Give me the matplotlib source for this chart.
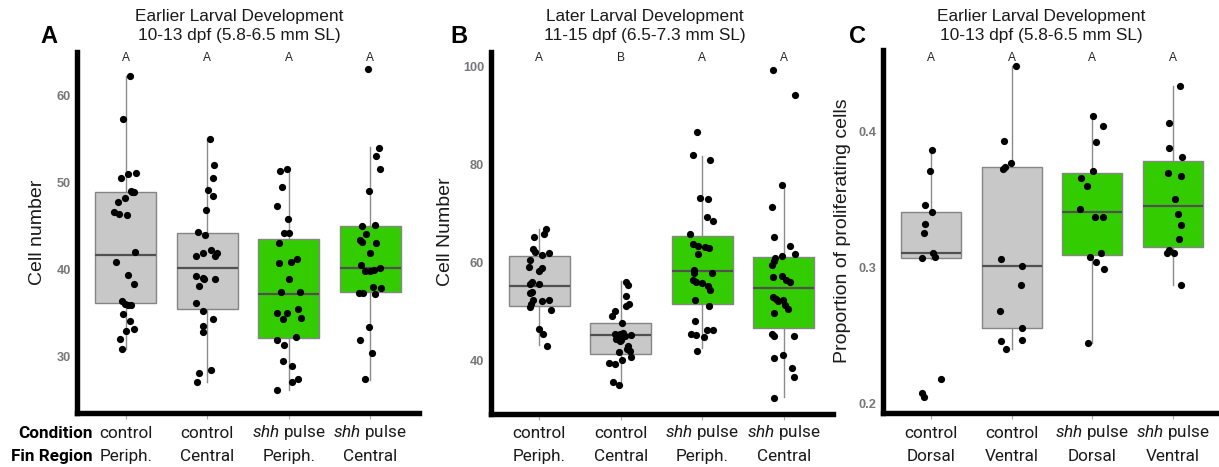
import matplotlib
matplotlib.use('Agg')
import matplotlib.pyplot as plt
from matplotlib.transforms import blended_transform_factory
import numpy as np

plt.rcParams['mathtext.fontset'] = 'custom'
plt.rcParams['mathtext.it'] = 'Roboto:italic'
plt.rcParams['mathtext.rm'] = 'Roboto'

W, H = 1219, 467

# ---------------- Panel A data (cell number, earlier development) ----------------
A_ctrl_periph = [62.2, 57.2, 50.5, 50.9, 51.0, 49.0, 48.9, 48.8, 48.2, 47.7, 46.5, 46.3, 46.2, 42.0,
                 40.8, 39.3, 38.3, 36.3, 36.0, 35.9, 35.9, 34.8, 34.0, 32.9, 33.1, 31.9, 30.8]
A_ctrl_central = [54.9, 52.0, 50.5, 49.1, 48.4, 46.8, 44.3, 43.9, 41.9, 42.2, 41.9, 41.5, 41.5, 39.2,
                  39.0, 38.8, 38.9, 38.1, 36.1, 35.2, 34.2, 33.4, 32.8, 28.4, 28.1, 27.0]
A_shh_periph = [51.3, 51.5, 49.4, 47.2, 45.8, 44.2, 44.1, 43.0, 40.7, 40.8, 41.1, 38.9, 37.4, 37.4,
                35.4, 34.9, 35.0, 34.4, 34.2, 32.2, 31.8, 31.3, 29.4, 28.9, 27.4, 27.0, 26.1]
A_shh_central = [63.0, 53.9, 53.0, 51.5, 49.0, 44.9, 45.1, 44.0, 43.3, 43.1, 43.0, 41.9, 40.5, 39.8,
                 39.8, 39.9, 40.1, 37.9, 37.8, 37.2, 37.3, 37.1, 33.3, 31.8, 30.4, 27.4]
A_jit1 = [0.047, -0.039, -0.059, 0.022, 0.125, 0.063, 0.080, 0.104, -0.014, -0.100, -0.141, -0.080, 0.018,
          0.108, -0.121, 0.027, 0.100, -0.047, -0.014, 0.027, 0.063, -0.039, 0.051, -0.002, 0.100, -0.067, -0.051]
A_jit2 = [0.033, 0.082, 0.065, 0.008, 0.074, -0.016, -0.119, -0.025, -0.049, 0.049, 0.123, 0.098, -0.139,
          -0.143, -0.049, -0.037, 0.094, -0.102, -0.143, -0.057, 0.074, -0.049, -0.049, 0.049, -0.098, -0.127]
A_jit3 = [-0.106, -0.020, -0.078, -0.147, -0.008, -0.053, 0.008, -0.115, -0.115, 0.025, 0.102, 0.008, -0.090,
          0.139, 0.114, -0.147, -0.025, 0.151, -0.074, 0.094, -0.139, -0.053, -0.074, 0.037, 0.119, 0.045, -0.139]
A_jit4 = [-0.029, 0.106, 0.074, 0.127, -0.016, -0.094, 0.065, -0.045, -0.127, -0.106, 0.074, 0.004, -0.110,
          -0.061, -0.004, 0.045, 0.127, 0.029, 0.135, -0.135, -0.082, 0.057, -0.008, -0.127, 0.020, -0.061]
A_whislo = [30.8, 27.0, 26.1, 27.3]
A_q1 = [36.1, 35.4, 32.1, 37.4]
A_med = [41.6, 40.1, 37.1, 40.1]
A_q3 = [48.8, 44.1, 43.4, 44.9]
A_whishi = [62.2, 54.9, 51.5, 54.0]
A_letters = ['A', 'A', 'A', 'A']
A_yticks = [30, 40, 50, 60]

# ---------------- Panel B data (cell number, later development) ----------------
B_ctrl_periph = [66.8, 65.8, 65.2, 62.8, 62.2, 61.4, 61.9, 60.4, 59.0, 58.8, 58.3, 55.9, 55.6, 55.5,
                 54.0, 53.8, 52.4, 52.2, 52.3, 51.4, 50.9, 50.2, 46.3, 45.3, 42.9]
B_ctrl_central = [55.9, 55.3, 53.2, 51.4, 51.1, 50.1, 49.1, 47.5, 45.3, 45.3, 45.5, 45.2, 44.8, 44.1,
                  43.9, 42.9, 42.3, 41.9, 41.6, 40.7, 40.1, 39.5, 39.3, 35.5, 35.0, 45.0, 44.4]
B_shh_periph = [86.6, 82.0, 81.0, 73.1, 72.9, 69.3, 68.4, 65.8, 63.8, 63.4, 63.1, 63.0, 61.8, 58.5, 57.9,
                57.9, 56.4, 56.0, 55.8, 55.2, 54.3, 52.3, 51.0, 48.0, 46.1, 46.1, 45.3, 45.2, 44.8, 41.9]
B_shh_central = [99.4, 94.2, 75.8, 71.3, 65.1, 63.3, 61.7, 61.3, 60.9, 60.2, 59.5, 57.1, 57.2, 56.3, 56.0,
                 53.0, 52.5, 52.1, 52.3, 51.2, 50.4, 49.7, 45.3, 44.9, 44.9, 40.5, 41.1, 38.4, 36.6, 32.2]
B_jit1 = [0.082, 0.061, -0.070, -0.082, -0.057, 0.029, 0.123, -0.115, -0.123, 0.037, -0.008, -0.094, -0.119,
          -0.008, -0.090, -0.115, -0.082, 0.029, 0.115, -0.102, -0.110, 0.139, 0.000, 0.045, 0.090]
B_jit2 = [0.061, 0.094, 0.065, 0.106, 0.070, -0.070, -0.102, 0.012, -0.074, -0.012, 0.033, 0.123, -0.045,
          0.008, -0.004, 0.086, 0.078, 0.119, -0.025, 0.131, 0.016, -0.139, -0.070, -0.098, -0.025, 0.050, -0.060]
B_jit3 = [-0.067, -0.112, 0.096, -0.022, 0.067, 0.059, 0.133, -0.145, -0.112, -0.051, 0.035, 0.080, -0.051,
          -0.096, -0.096, 0.125, -0.112, -0.072, 0.002, 0.076, 0.092, -0.088, 0.084, -0.084, 0.055, 0.133,
          -0.133, -0.072, 0.022, -0.067]
B_jit4 = [-0.127, 0.139, -0.016, -0.143, -0.119, 0.082, 0.135, -0.016, -0.106, -0.123, -0.143, -0.127, -0.020,
          0.033, 0.074, -0.127, -0.098, -0.070, -0.008, 0.012, 0.053, -0.119, -0.139, -0.119, 0.123, -0.115,
          -0.012, 0.098, 0.131, -0.115]
B_whislo = [43.2, 34.9, 42.4, 32.5]
B_q1 = [51.1, 41.2, 51.4, 46.5]
B_med = [55.1, 45.2, 58.2, 54.7]
B_q3 = [61.2, 47.7, 65.4, 61.0]
B_whishi = [66.9, 56.1, 81.8, 75.7]
B_letters = ['A', 'B', 'A', 'A']
B_yticks = [40, 60, 80, 100]

# ---------------- Panel C data (proportion of proliferating cells) ----------------
C_ctrl_dorsal = [0.386, 0.371, 0.346, 0.341, 0.332, 0.325, 0.311, 0.308, 0.307, 0.218, 0.208, 0.205]
C_ctrl_ventral = [0.448, 0.393, 0.377, 0.374, 0.372, 0.306, 0.301, 0.287, 0.268, 0.256, 0.247, 0.246, 0.240]
C_shh_dorsal = [0.411, 0.404, 0.392, 0.371, 0.366, 0.360, 0.343, 0.337, 0.337, 0.311, 0.308, 0.304, 0.299, 0.245]
C_shh_ventral = [0.433, 0.406, 0.388, 0.381, 0.369, 0.367, 0.350, 0.339, 0.331, 0.321, 0.313, 0.311, 0.311, 0.287]
C_jit1 = [0.005, -0.020, -0.074, 0.013, -0.082, -0.095, 0.017, 0.046, -0.111, 0.120, -0.115, -0.086]
C_jit2 = [0.050, -0.091, -0.004, -0.079, -0.108, -0.132, 0.124, 0.116, -0.149, 0.132, 0.124, -0.139, -0.074]
C_jit3 = [0.006, 0.139, 0.052, 0.014, -0.143, -0.068, -0.151, 0.039, 0.130, 0.114, -0.027, 0.043, 0.147, -0.052]
C_jit4 = [0.091, -0.045, -0.045, 0.112, -0.062, 0.108, 0.029, 0.062, 0.103, 0.079, -0.045, -0.070, 0.017, 0.108]
C_whislo = [0.3065, 0.240, 0.245, 0.287]
C_q1 = [0.307, 0.256, 0.309, 0.315]
C_med = [0.311, 0.301, 0.341, 0.345]
C_q3 = [0.341, 0.374, 0.3695, 0.378]
C_whishi = [0.386, 0.448, 0.411, 0.433]
C_letters = ['A', 'A', 'A', 'A']
C_yticks = [0.2, 0.3, 0.4]

conditions = ['control', 'control', r'$\mathit{shh}$ pulse', r'$\mathit{shh}$ pulse']
regions_AB = ['Periph.', 'Central', 'Periph.', 'Central']
regions_C = ['Dorsal', 'Ventral', 'Dorsal', 'Ventral']

GRAY = '#C8C8C8'
GREEN = '#33CC00'
fills = [GRAY, GRAY, GREEN, GREEN]

fig = plt.figure(figsize=(W / 100, H / 100), dpi=100)


def rect(l, t, r, b):
    return [l / W, 1 - b / H, (r - l) / W, (b - t) / H]


def fy(y):
    return 1 - y / H


def fx(x):
    return x / W


panels = [
    dict(rect=rect(77, 52, 419, 413), ylim=(23.45, 64.95),
         groups=[A_ctrl_periph, A_ctrl_central, A_shh_periph, A_shh_central],
         jit=[A_jit1, A_jit2, A_jit3, A_jit4],
         stats=(A_whislo, A_q1, A_med, A_q3, A_whishi), letters=A_letters, yticks=A_yticks,
         ytl=['30', '40', '50', '60'], regions=regions_AB,
         title=('Earlier Larval Development', '10-13 dpf (5.8-6.5 mm SL)'), tx=239,
         tag='A', tagx=48.7, ylabel='Cell number', ylx=37, yly=232),
    dict(rect=rect(490.5, 52, 832.5, 413.5), ylim=(29.1, 103.0),
         groups=[B_ctrl_periph, B_ctrl_central, B_shh_periph, B_shh_central],
         jit=[B_jit1, B_jit2, B_jit3, B_jit4],
         stats=(B_whislo, B_q1, B_med, B_q3, B_whishi), letters=B_letters, yticks=B_yticks,
         ytl=['40', '60', '80', '100'], regions=regions_AB,
         title=('Later Larval Development', '11-15 dpf (6.5-7.3 mm SL)'), tx=645,
         tag='B', tagx=458.7, ylabel='Cell Number', ylx=446, yly=232),
    dict(rect=rect(883, 50, 1221, 413), ylim=(0.1934, 0.4595),
         groups=[C_ctrl_dorsal, C_ctrl_ventral, C_shh_dorsal, C_shh_ventral],
         jit=[C_jit1, C_jit2, C_jit3, C_jit4],
         stats=(C_whislo, C_q1, C_med, C_q3, C_whishi), letters=C_letters, yticks=C_yticks,
         ytl=['0.2', '0.3', '0.4'], regions=regions_C,
         title=('Earlier Larval Development', '10-13 dpf (5.8-6.5 mm SL)'), tx=1041,
         tag='C', tagx=857.5, ylabel='Proportion of proliferating cells', ylx=843, yly=231),
]

SANS = ['Liberation Sans', 'DejaVu Sans']
ROBOTO = ['Roboto', 'DejaVu Sans']

for p in panels:
    ax = fig.add_axes(p['rect'])
    lo, q1, med, q3, hi = p['stats']
    bstats = [dict(whislo=lo[i], q1=q1[i], med=med[i], q3=q3[i], whishi=hi[i]) for i in range(4)]
    pos = np.arange(1, 5)
    bp = ax.bxp(bstats, positions=pos, widths=0.75, showfliers=False, showcaps=False,
                patch_artist=True,
                boxprops=dict(edgecolor='#858585', linewidth=1.0),
                medianprops=dict(color='#505050', linewidth=1.6, solid_capstyle='butt'),
                whiskerprops=dict(color='#8c8c8c', linewidth=1.0))
    for patch, fc in zip(bp['boxes'], fills):
        patch.set_facecolor(fc)
        patch.set_zorder(2)
    for w in bp['whiskers']:
        w.set_zorder(1)
    for m in bp['medians']:
        m.set_zorder(2.5)
    for i, (vals, jj) in enumerate(zip(p['groups'], p['jit'])):
        ax.scatter(pos[i] + np.array(jj), vals, s=27, color='black', linewidths=0, zorder=3)

    ax.set_xlim(0.4, 4.6)
    ax.set_ylim(*p['ylim'])
    ax.set_yticks(p['yticks'])
    ax.set_yticklabels(p['ytl'], fontweight='bold', family=SANS)
    ax.tick_params(axis='y', labelsize=9.2, labelcolor='#77777a', length=0, pad=4.5)
    ax.set_xticks(pos)
    ax.set_xticklabels([])
    ax.tick_params(axis='x', length=4.5, width=0.8, color='#aaaaaa')
    for s in ['top', 'right']:
        ax.spines[s].set_visible(False)
    for s in ['left', 'bottom']:
        ax.spines[s].set_linewidth(3.9)
        ax.spines[s].set_color('black')
        ax.spines[s].set_capstyle('projecting')

    tr = blended_transform_factory(ax.transData, fig.transFigure)
    for i in range(4):
        ax.text(pos[i], fy(61.0), p['letters'][i], transform=tr, ha='center', va='baseline',
                fontsize=8.6, family=SANS, color='#222222')
        ax.text(pos[i], fy(437.5), conditions[i], transform=tr, ha='center', va='baseline',
                fontsize=12.3, family=ROBOTO, color='#1a1a1a')
        ax.text(pos[i], fy(461), p['regions'][i], transform=tr, ha='center', va='baseline',
                fontsize=12.3, family=ROBOTO, color='#1a1a1a')

    fig.text(fx(p['tx']), fy(20.7), p['title'][0], ha='center', va='baseline',
             fontsize=12.4, family=SANS, color='#1a1a1a')
    fig.text(fx(p['tx']), fy(40.0), p['title'][1], ha='center', va='baseline',
             fontsize=12.4, family=SANS, color='#1a1a1a')
    fig.text(fx(p['tagx']), fy(43.3), p['tag'], ha='center', va='baseline',
             fontsize=17, fontweight='bold', family=SANS, color='black')
    fig.text(fx(p['ylx']), fy(p['yly']), p['ylabel'], rotation=90, ha='center', va='center',
             fontsize=14, family=SANS, color='#1a1a1a')

fig.text(fx(92.5), fy(437.5), 'Condition', ha='right', va='baseline', fontsize=12.3,
         fontweight='bold', family=ROBOTO, color='black')
fig.text(fx(92.5), fy(461), 'Fin Region', ha='right', va='baseline', fontsize=12.3,
         fontweight='bold', family=ROBOTO, color='black')

fig.savefig('out.png', dpi=100)
